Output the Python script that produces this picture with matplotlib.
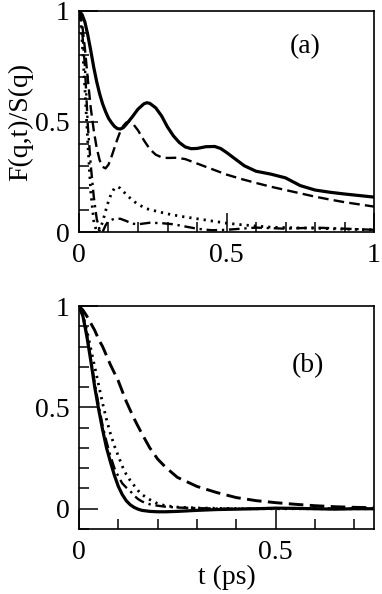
import numpy as np
from matplotlib import pyplot as plt
from matplotlib.ticker import MultipleLocator, FuncFormatter

plt.rcParams['font.family'] = ['Liberation Serif', 'DejaVu Serif']
plt.rcParams['font.size'] = 20

# panel (a)
t_a_solid = [0, 0.01, 0.02, 0.03, 0.04, 0.05, 0.06, 0.07, 0.08, 0.09, 0.1, 0.11, 0.12, 0.13, 0.14,
             0.15, 0.16, 0.18, 0.2, 0.22, 0.23, 0.24, 0.26, 0.28, 0.3, 0.32, 0.34, 0.36, 0.38, 0.4,
             0.43, 0.46, 0.48, 0.5, 0.53, 0.56, 0.6, 0.65, 0.7, 0.75, 0.8, 0.85, 0.9, 0.95, 1.0]
f_a_solid = [1.0, 0.985, 0.95, 0.89, 0.82, 0.745, 0.68, 0.625, 0.58, 0.545, 0.515, 0.495, 0.478,
             0.468, 0.466, 0.472, 0.487, 0.52, 0.556, 0.58, 0.585, 0.582, 0.562, 0.525, 0.475,
             0.435, 0.405, 0.385, 0.377, 0.378, 0.386, 0.387, 0.378, 0.36, 0.33, 0.3, 0.275,
             0.262, 0.245, 0.21, 0.19, 0.18, 0.172, 0.165, 0.158]

t_a_dash = [0, 0.01, 0.02, 0.03, 0.04, 0.05, 0.06, 0.07, 0.08, 0.09, 0.1, 0.11, 0.12, 0.13, 0.14,
            0.15, 0.16, 0.17, 0.18, 0.2, 0.22, 0.24, 0.26, 0.28, 0.3, 0.33, 0.36, 0.4, 0.45, 0.5,
            0.55, 0.6, 0.65, 0.7, 0.75, 0.8, 0.85, 0.9, 0.95, 1.0]
f_a_dash = [1.0, 0.95, 0.83, 0.69, 0.56, 0.46, 0.38, 0.325, 0.295, 0.288, 0.305, 0.34, 0.38, 0.42,
            0.455, 0.48, 0.495, 0.5, 0.495, 0.46, 0.415, 0.375, 0.35, 0.338, 0.335, 0.336, 0.33,
            0.31, 0.285, 0.26, 0.24, 0.222, 0.205, 0.19, 0.175, 0.16, 0.147, 0.135, 0.125, 0.115]

t_a_dot = [0, 0.005, 0.01, 0.02, 0.03, 0.04, 0.05, 0.06, 0.07, 0.08, 0.09, 0.1, 0.11, 0.12, 0.13,
           0.14, 0.16, 0.18, 0.2, 0.23, 0.26, 0.3, 0.35, 0.4, 0.45, 0.5, 0.55, 0.6, 0.65, 0.7,
           0.8, 0.9, 1.0]
f_a_dot = [1.0, 0.96, 0.88, 0.65, 0.4, 0.18, 0.05, 0.0, 0.01, 0.045, 0.095, 0.14, 0.175, 0.198,
           0.205, 0.198, 0.17, 0.145, 0.125, 0.105, 0.095, 0.082, 0.07, 0.06, 0.05, 0.04, 0.033,
           0.027, 0.022, 0.02, 0.017, 0.013, 0.01]

t_a_dd = [0, 0.005, 0.01, 0.02, 0.03, 0.04, 0.05, 0.06, 0.07, 0.08, 0.09, 0.1, 0.12, 0.14, 0.16,
          0.18, 0.2, 0.24, 0.28, 0.32, 0.36, 0.4, 0.45, 0.5, 0.6, 0.7, 0.8, 0.9, 1.0]
f_a_dd = [1.0, 0.97, 0.92, 0.75, 0.48, 0.3, 0.16, 0.06, 0.01, 0.0, 0.03, 0.05, 0.06, 0.06, 0.05,
          0.038, 0.035, 0.042, 0.04, 0.035, 0.025, 0.015, 0.008, 0.01, 0.02, 0.015, 0.02,
          0.015, 0.01]

# panel (b)
t_b = [0, 0.01, 0.02, 0.03, 0.04, 0.05, 0.06, 0.07, 0.08, 0.09, 0.1, 0.11, 0.12, 0.13, 0.14,
       0.15, 0.16, 0.18, 0.2, 0.22, 0.25, 0.3, 0.35, 0.4, 0.45, 0.5, 0.55, 0.6, 0.65, 0.7, 0.75]
f_b_solid = [1.0, 0.95, 0.85, 0.73, 0.6, 0.49, 0.39, 0.3, 0.23, 0.165, 0.11, 0.07, 0.04, 0.02,
             0.007, -0.002, -0.008, -0.013, -0.015, -0.015, -0.013, -0.008, -0.004, -0.002,
             0.0, 0.003, 0.002, 0.0, -0.002, 0.0, 0.0]
f_b_dd = [1.0, 0.95, 0.86, 0.74, 0.62, 0.51, 0.41, 0.33, 0.26, 0.2, 0.16, 0.125, 0.105, 0.088,
          0.065, 0.048, 0.036, 0.022, 0.015, 0.01, 0.006, 0.003, 0.001, 0.0, 0.0, 0.002, 0.001,
          0.0, 0.0, 0.0, 0.0]
f_b_dot = [1.0, 0.955, 0.88, 0.79, 0.7, 0.61, 0.52, 0.44, 0.37, 0.31, 0.26, 0.21, 0.17, 0.14,
           0.115, 0.09, 0.07, 0.045, 0.025, 0.015, 0.008, 0.004, 0.002, 0.001, 0.0, 0.0, 0.0,
           0.0, 0.0, 0.0, 0.0]
f_b_dash = [1.0, 0.98, 0.95, 0.915, 0.88, 0.835, 0.8, 0.755, 0.71, 0.67, 0.63, 0.58, 0.53,
            0.487, 0.445, 0.407, 0.37, 0.3, 0.245, 0.205, 0.155, 0.11, 0.08, 0.055, 0.04, 0.03,
            0.022, 0.015, 0.01, 0.007, 0.005]

fig = plt.figure(figsize=(3.82, 5.94), dpi=100)
ax1 = fig.add_axes([0.2068, 0.6094, 0.7723, 0.3721])
ax2 = fig.add_axes([0.2068, 0.1094, 0.7723, 0.3754])

dash = (0, (4.5, 2.2))
dash_b = (0, (5.0, 2.2))
dot = (0, (0.8, 1.8))
dashdot = (0, (4.5, 2.0, 1.0, 2.0))

ax1.plot(t_a_solid, f_a_solid, 'k-', lw=2.3)
ax1.plot(t_a_dash, f_a_dash, color='k', ls=dash, lw=1.7)
ax1.plot(t_a_dot, f_a_dot, color='k', ls=dot, lw=2.0)
ax1.plot(t_a_dd, f_a_dd, color='k', ls=dashdot, lw=1.7)

ax2.plot(t_b, f_b_solid, 'k-', lw=2.3)
ax2.plot(t_b, f_b_dash, color='k', ls=dash_b, lw=2.1)
ax2.plot(t_b, f_b_dot, color='k', ls=dot, lw=2.0)
ax2.plot(t_b, f_b_dd, color='k', ls=dashdot, lw=1.7)

ax1.set_xlim(0, 1)
ax1.set_ylim(0, 1)
ax2.set_xlim(0, 0.75)
ax2.set_ylim(-0.1, 1)

fmt = FuncFormatter(lambda v, p: '%g' % v)
for ax in (ax1, ax2):
    ax.xaxis.set_major_locator(MultipleLocator(0.5))
    ax.xaxis.set_minor_locator(MultipleLocator(0.1))
    ax.yaxis.set_major_locator(MultipleLocator(0.5))
    ax.yaxis.set_minor_locator(MultipleLocator(0.1))
    ax.xaxis.set_major_formatter(fmt)
    ax.yaxis.set_major_formatter(fmt)
    ax.tick_params(which='both', direction='in', top=False, right=False, width=1.1)
    ax.tick_params(which='major', length=14, pad=7)
    ax.tick_params(which='minor', length=7)
    ax.tick_params(axis='x', pad=8)
    for s in ax.spines.values():
        s.set_linewidth(1.2)

ax1.text(0.766, 0.84, '(a)', transform=ax1.transAxes, ha='center', va='center')
ax2.text(0.776, 0.731, '(b)', transform=ax2.transAxes, ha='center', va='center')
ax1.set_ylabel('F(q,t)/S(q)', labelpad=1)
ax2.set_xlabel('t (ps)', labelpad=0)

fig.savefig('out.png', dpi=100)
